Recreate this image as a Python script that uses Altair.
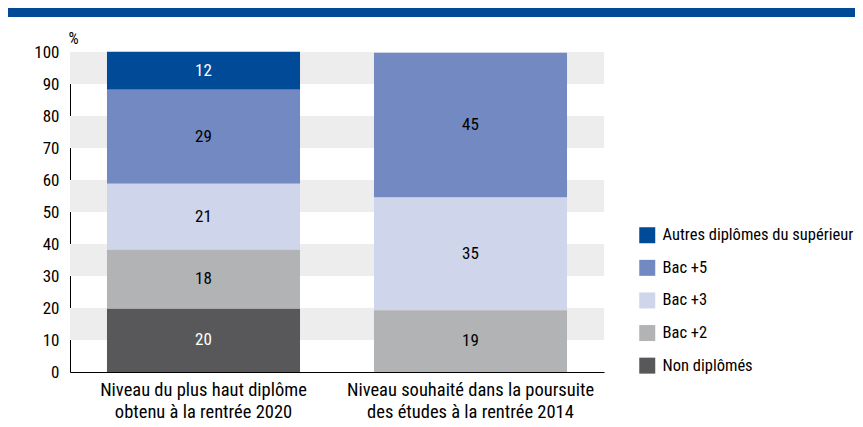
import altair as alt
import pandas as pd

categories = [
    "Niveau du plus haut diplôme\nobtenu à la rentrée 2020",
    "Niveau souhaité dans la poursuite\ndes études à la rentrée 2014",
]
levels = ["Autres diplômes du supérieur", "Bac +5", "Bac +3", "Bac +2", "Non diplômés"]
colors = ["#004a98", "#7389c2", "#cfd5ea", "#b2b3b5", "#58585a"]
text_colors = ["white", "black", "black", "black", "white"]
values_2020 = [11.9, 29.4, 20.6, 18.4, 19.8]
values_2014 = [0, 45.3, 35.2, 19.3, 0]
labels_2020 = ["12", "29", "21", "18", "20"]
labels_2014 = ["", "45", "35", "19", ""]
stripe_starts = [10, 30, 50, 70, 90]
y_ticks = [0, 10, 20, 30, 40, 50, 60, 70, 80, 90, 100]

FONT = "Liberation Sans Narrow, Roboto Condensed, DejaVu Sans Condensed, Arial Narrow, sans-serif"
W, H = 534, 320

rows = []
for cat, vals, labs in [(categories[0], values_2020, labels_2020), (categories[1], values_2014, labels_2014)]:
    for i, lev in enumerate(levels):
        if vals[i] > 0:
            rows.append({"cat": cat, "level": lev, "value": vals[i], "label": labs[i],
                         "rank": len(levels) - 1 - i, "tc": text_colors[i]})
df = pd.DataFrame(rows)
stripes = pd.DataFrame({"y0": stripe_starts, "y1": [s + 10 for s in stripe_starts]})

yscale = alt.Scale(domain=[0, 100])
xscale = alt.Scale(domain=categories, paddingInner=0.277, paddingOuter=0.1385)

yaxis = alt.Axis(values=y_ticks, ticks=False, grid=False, labelPadding=11,
                 labelOverlap=False, labelFontSize=17, labelColor="black",
                 labelFont=FONT, domainColor="black", title="%", titleAngle=0,
                 titleAlign="left", titleBaseline="bottom", titleX=-2, titleY=-6,
                 titleFontWeight="normal", titleFontSize=16, titleFont=FONT,
                 titleColor="black")
xaxis = alt.Axis(title=None, ticks=False, labelAngle=0,
                 labelExpr="split(datum.label, '\\n')",
                 labelFontSize=18.5, labelLineHeight=22, labelPadding=8,
                 labelLimit=500, labelColor="black", domainColor="black",
                 labelFont=FONT)

stripe_layer = alt.Chart(stripes).mark_rect(color="#ededed").encode(
    y=alt.Y("y0:Q", scale=yscale, axis=yaxis),
    y2="y1:Q",
    x=alt.value(0),
    x2=alt.value(W),
)

base = alt.Chart(df).transform_stack(
    stack="value", groupby=["cat"], as_=["y0", "y1"],
    sort=[alt.SortField("rank", order="ascending")],
).transform_calculate(mid="(datum.y0 + datum.y1) / 2")

bars = base.mark_bar().encode(
    x=alt.X("cat:N", scale=xscale, sort=categories, axis=xaxis),
    y=alt.Y("y0:Q", scale=yscale, axis=yaxis),
    y2="y1:Q",
    color=alt.Color("level:N", scale=alt.Scale(domain=levels, range=colors),
                    legend=alt.Legend(title=None, orient="none", legendX=569, legendY=175,
                                      symbolType="square", symbolSize=256,
                                      symbolStrokeWidth=0, rowPadding=15.6,
                                      labelOffset=7, labelFontSize=16.5, labelFont=FONT,
                                      labelColor="black", labelLimit=300, padding=0)),
)

texts = base.mark_text(fontSize=17, font=FONT).encode(
    x=alt.X("cat:N", scale=xscale, sort=categories, axis=xaxis),
    y=alt.Y("mid:Q", scale=yscale, axis=yaxis),
    text="label:N",
    color=alt.Color("tc:N", scale=None),
)

banner = alt.Chart(pd.DataFrame({"k": [0]})).mark_rect(color="#004a98").encode(
    x=alt.value(-62), x2=alt.value(785), y=alt.value(-44), y2=alt.value(-35),
)

chart = alt.layer(stripe_layer, bars, texts, banner).properties(
    width=W, height=H,
    autosize=alt.AutoSizeParams(type="none"),
    padding={"left": 62, "top": 44, "right": 251, "bottom": 55},
).configure_view(stroke=None)

chart.save("out.html", embed_options={"renderer": "svg", "actions": False})
